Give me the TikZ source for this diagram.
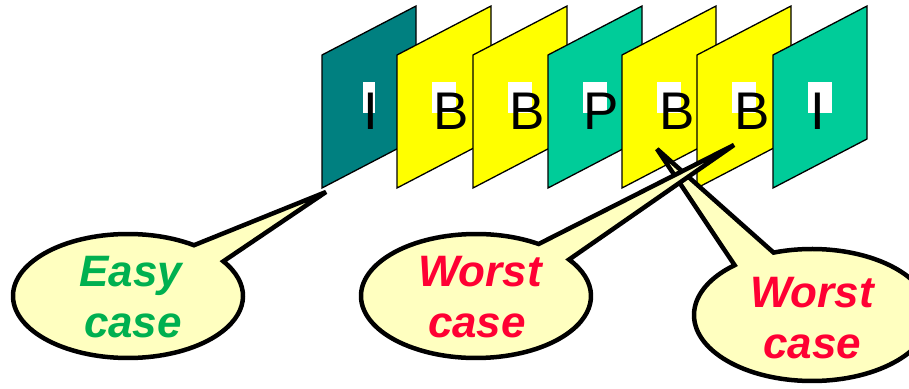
\documentclass[tikz,border=0pt]{standalone}
\usepackage{fontspec}
\setmainfont{Liberation Sans}
\definecolor{tealI}{HTML}{008080}
\definecolor{yelB}{HTML}{FFFF00}
\definecolor{greenP}{HTML}{00CC99}
\definecolor{balloon}{HTML}{FFFFC0}
\definecolor{easygreen}{HTML}{00B050}
\definecolor{worstred}{HTML}{FF0033}
\begin{document}
\begin{tikzpicture}[x=1pt,y=1pt,
  frame/.style={draw=black,line width=1.3pt,line join=miter},
  letter/.style={anchor=base,inner sep=0pt,font=\fontsize{53}{53}\selectfont},
  wbox/.style={fill=white},
  callout/.style={draw=black,fill=balloon,line width=4.5pt,line join=miter,miter limit=6},
  ctext/.style={anchor=base,inner sep=0pt,font=\fontsize{44}{44}\selectfont\bfseries\itshape}]
\useasboundingbox (0,0) rectangle (909,388);
\clip (0,0) rectangle (909,388);
% frames
\foreach \L/\col/\cx/\bl/\br/\txt/\nm in {322/tealI/371/363/375/I/f1,397/yelB/451/432/456/B/f2,473/yelB/527/508/532/B/f3,548/greenP/601/583/607/P/f4,622/yelB/677/657/681/B/f5,697/yelB/752/732/756/B/f6,773/greenP/818/808/832/I/f7}{
  \filldraw[frame,fill=\col] (\L,333) -- (\L+94,382) -- (\L+94,249) -- (\L,200) -- cycle;
  \fill[wbox] (\bl,275) rectangle (\br,306);
  \node[letter] (\nm) at (\cx,258) {\txt};
}
% callout: Worst case (right)
\coordinate (tipC) at (657,239);
\draw[callout] (812,73) ++(131:118pt and 66pt) arc[start angle=131,end angle=469,x radius=118pt,y radius=66pt] -- (tipC) -- cycle;
\node[ctext,text=worstred] (w2a) at (812,81) {Worst};
\node[ctext,text=worstred] (w2b) at (812,30) {case};
% callout: Worst case (middle)
\coordinate (tipB) at (734,243);
\draw[callout] (476,92) ++(57:115pt and 62pt) arc[start angle=57,end angle=396,x radius=115pt,y radius=62pt] -- (tipB) -- cycle;
\node[ctext,text=worstred] (w1a) at (480,101) {Worst};
\node[ctext,text=worstred] (w1b) at (477,51) {case};
% callout: Easy case
\coordinate (tipA) at (326,196);
\draw[callout] (128,92) ++(55:115pt and 62pt) arc[start angle=55,end angle=394,x radius=115pt,y radius=62pt] -- (tipA) -- cycle;
\node[ctext,text=easygreen] (e1) at (131,101) {Easy};
\node[ctext,text=easygreen] (e2) at (133,51) {case};
\end{tikzpicture}
\end{document}
